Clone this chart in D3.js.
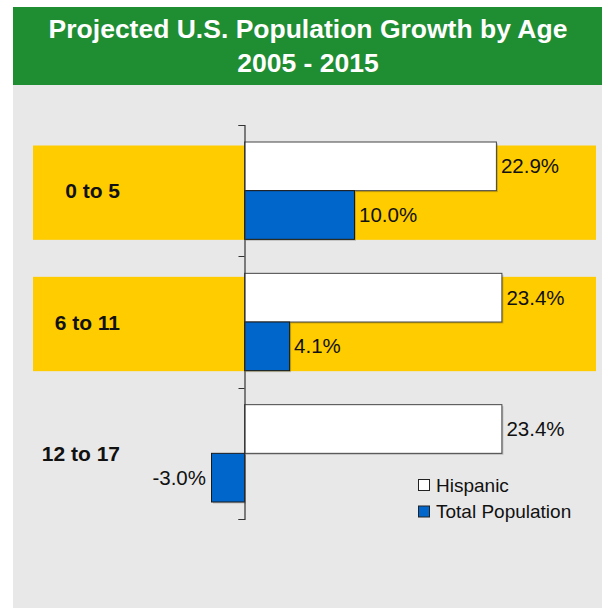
<!DOCTYPE html>
<html>
<head>
<meta charset="utf-8">
<script src="https://cdn.jsdelivr.net/npm/d3@7"></script>
<style>
  html, body { margin: 0; padding: 0; background: #ffffff; }
  svg { display: block; font-family: "Liberation Sans", Arial, sans-serif; }
</style>
</head>
<body>
<svg id="chart" width="602" height="609"></svg>
<script>
// Age groups, top to bottom
const categories = ["0 to 5", "6 to 11", "12 to 17"];
// Series names (legend order)
const seriesNames = ["Hispanic", "Total Population"];
// Projected growth 2005-2015, percent
const hispanic = [22.9, 23.4, 23.4];
const totalPopulation = [10.0, 4.1, -3.0];
// Age groups shown on a highlighted band
const highlighted = ["0 to 5", "6 to 11"];
const titleLines = ["Projected U.S. Population Growth by Age", "2005 - 2015"];

const colors = { "Hispanic": "#ffffff", "Total Population": "#0066cc" };
const strokes = { "Hispanic": "#444444", "Total Population": "#1a1a1a" };

const rows = categories.map((c, i) => ({
  category: c,
  values: [
    { series: seriesNames[0], value: hispanic[i] },
    { series: seriesNames[1], value: totalPopulation[i] }
  ]
}));

const svg = d3.select("#chart");

// Panel background and header
svg.append("rect").attr("x", 13).attr("y", 85).attr("width", 589).attr("height", 523).attr("fill", "#e8e8e8");
svg.append("rect").attr("x", 13).attr("y", 7).attr("width", 589).attr("height", 78).attr("fill", "#1f8d32");

svg.append("g").selectAll("text").data(titleLines).join("text")
  .attr("x", 308)
  .attr("y", (d, i) => 38 + i * 34)
  .attr("text-anchor", "middle")
  .attr("fill", "#ffffff")
  .attr("font-weight", "bold")
  .attr("font-size", 26.5)
  .text(d => d);

// Scales
const x = d3.scaleLinear().domain([-20, 30]).range([24.5, 574.5]);
const y = d3.scaleBand().domain(categories).range([125, 519]).padding(0);
const bw = y.bandwidth();
const ySub = d3.scaleBand().domain(seriesNames).range([17, bw - 17]).padding(0);

// Highlight bands behind the bars
svg.append("g").selectAll("rect").data(highlighted).join("rect")
  .attr("x", 33)
  .attr("width", 563)
  .attr("y", d => y(d) + 20.5)
  .attr("height", (bw - 17) - 20.5 + 0.5)
  .attr("fill", "#ffcc00");

// Bars
const groups = svg.append("g").selectAll("g").data(rows).join("g")
  .attr("transform", d => `translate(0,${y(d.category)})`);

// soft shadow under each bar
groups.selectAll("rect.shadow").data(d => d.values).join("rect")
  .attr("class", "shadow")
  .attr("x", d => Math.min(x(0), x(d.value)) + 1.5)
  .attr("y", d => ySub(d.series) + 1.5)
  .attr("width", d => Math.abs(x(d.value) - x(0)))
  .attr("height", ySub.bandwidth())
  .attr("fill", "#000")
  .attr("opacity", 0.18);

groups.selectAll("rect.bar").data(d => d.values).join("rect")
  .attr("class", "bar")
  .attr("x", d => Math.min(x(0), x(d.value)))
  .attr("y", d => ySub(d.series))
  .attr("width", d => Math.abs(x(d.value) - x(0)))
  .attr("height", ySub.bandwidth())
  .attr("fill", d => colors[d.series])
  .attr("stroke", d => strokes[d.series])
  .attr("stroke-width", 1);

// Value labels
groups.selectAll("text.val").data(d => d.values).join("text")
  .attr("class", "val")
  .attr("x", d => d.value >= 0 ? x(d.value) + 4.5 : x(d.value) - 5.5)
  .attr("y", d => ySub(d.series) + ySub.bandwidth() / 2 + 7)
  .attr("text-anchor", d => d.value >= 0 ? "start" : "end")
  .attr("font-size", 20.5)
  .attr("fill", "#111")
  .text(d => d.value.toFixed(1) + "%");

// Category axis at zero
const axis = d3.axisLeft(y).tickSize(6).tickSizeOuter(6).tickFormat("");
const ag = svg.append("g").attr("transform", `translate(${x(0)},0)`).call(axis);
ag.select(".domain").attr("stroke", "#333").attr("stroke-width", 1.2);
ag.selectAll(".tick").remove();
// boundary ticks between groups
const boundaries = categories.map(c => y(c)).concat([y.range()[1]]);
ag.selectAll("line.b").data(boundaries).join("line")
  .attr("class", "b")
  .attr("x1", -6).attr("x2", 0)
  .attr("y1", d => Math.round(d) + 0.5).attr("y2", d => Math.round(d) + 0.5)
  .attr("stroke", "#333");

// Category labels
svg.append("g").selectAll("text").data(categories).join("text")
  .attr("x", 120)
  .attr("y", d => y(d) + bw / 2 + 7.5)
  .attr("text-anchor", "end")
  .attr("font-weight", "bold")
  .attr("font-size", 21)
  .attr("fill", "#111")
  .text(d => d);

// Legend
const legend = svg.append("g").attr("transform", "translate(418,479)");
const li = legend.selectAll("g").data(seriesNames).join("g")
  .attr("transform", (d, i) => `translate(0,${i * 26.5})`);
li.append("rect")
  .attr("x", 0.5).attr("y", 0.5).attr("width", 11).attr("height", 11)
  .attr("fill", d => colors[d]).attr("stroke", "#222");
li.append("text")
  .attr("x", 18).attr("y", 12.5)
  .attr("font-size", 19)
  .attr("fill", "#111")
  .text(d => d);
</script>
</body>
</html>
